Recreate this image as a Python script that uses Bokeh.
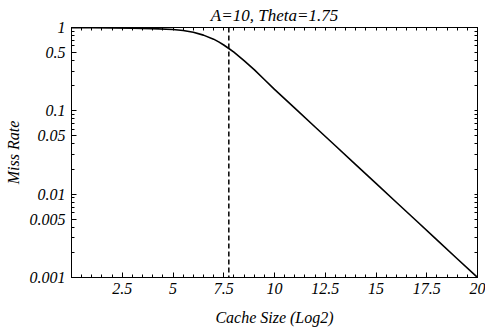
from bokeh.plotting import figure
from bokeh.models import FixedTicker, LogAxis, LinearAxis, Span, Range1d, Title
from bokeh.embed import file_html
from bokeh.resources import INLINE

# ---- data ----
cache_log2 = [0, 1, 2, 3, 4, 5, 5.5, 6, 6.5, 7, 7.25, 7.5, 7.75, 8, 8.5, 9, 9.5,
              10, 11, 12, 13, 14, 15, 16, 17, 18, 19, 20]
miss_rate = [0.996, 0.994, 0.99, 0.983, 0.97, 0.945, 0.92, 0.875, 0.81, 0.725,
             0.672, 0.617, 0.56, 0.505, 0.40, 0.312, 0.238,
             0.181, 0.1077, 0.064, 0.0381, 0.0226, 0.01345, 0.008, 0.00476,
             0.00283, 0.00168, 0.001]
dash_x = 7.75
x_ticks = [2.5, 5, 7.5, 10, 12.5, 15, 17.5, 20]
x_tick_labels = ["2.5", "5", "7.5", "10", "12.5", "15", "17.5", "20"]
y_ticks = [0.001, 0.005, 0.01, 0.05, 0.1, 0.5, 1]
y_tick_labels = ["0.001", "0.005", "0.01", "0.05", "0.1", "0.5", "1"]
title_text = "A=10, Theta=1.75"
x_label = "Cache Size (Log2)"
y_label = "Miss Rate"

FONT = "Liberation Serif"

x_minor = [i * 0.5 for i in range(0, 41) if (i * 0.5) not in x_ticks]
y_minor = []
for dec in [0.001, 0.01, 0.1]:
    for k in [2, 3, 4, 6, 7, 8, 9]:
        y_minor.append(dec * k)

p = figure(width=485, height=335, output_backend="svg", toolbar_location=None,
           y_axis_type="log", x_range=Range1d(0, 20), y_range=Range1d(0.001, 1),
           min_border_left=71, min_border_right=8, min_border_top=26,
           min_border_bottom=58)
p.background_fill_color = "white"
p.border_fill_color = "white"
p.outline_line_color = "black"
p.grid.visible = False

t = Title(text=title_text, align="center", text_font=FONT, text_font_style="italic",
          text_font_size="17px", text_color="black", standoff=6, offset=0)
p.title = t

p.line(cache_log2, miss_rate, line_color="black", line_width=1.6)
p.add_layout(Span(location=dash_x, dimension="height", line_color="black",
                  line_width=1.5, line_dash="5 3"))

def style(ax):
    ax.axis_line_color = "black"
    ax.major_tick_in = 5
    ax.major_tick_out = 0
    ax.minor_tick_in = 3
    ax.minor_tick_out = 0
    ax.major_tick_line_color = "black"
    ax.minor_tick_line_color = "black"
    ax.major_label_text_font = FONT
    ax.major_label_text_font_style = "italic"
    ax.major_label_text_font_size = "16px"
    ax.major_label_text_color = "black"
    ax.axis_label_text_font = FONT
    ax.axis_label_text_font_style = "italic"
    ax.axis_label_text_font_size = "16px"
    ax.axis_label_text_color = "black"

xa = p.xaxis[0]
xa.ticker = FixedTicker(ticks=x_ticks, minor_ticks=x_minor)
xa.major_label_overrides = {v: s for v, s in zip(x_ticks, x_tick_labels)}
xa.axis_label = x_label
style(xa)
xa.major_label_standoff = 5
xa.axis_label_standoff = 12

ya = p.yaxis[0]
ya.ticker = FixedTicker(ticks=y_ticks, minor_ticks=y_minor)
ya.major_label_overrides = {v: s for v, s in zip(y_ticks, y_tick_labels)}
ya.axis_label = y_label
style(ya)
ya.major_label_standoff = 6
ya.axis_label_standoff = 5

# Mirrored frame ticks (top and right) without labels: all ticks drawn as minor ticks
top = LinearAxis(ticker=FixedTicker(ticks=[], minor_ticks=sorted(x_ticks + x_minor)))
top.axis_line_color = "black"
top.major_tick_line_color = None
top.minor_tick_in = 3
top.minor_tick_out = 0
top.minor_tick_line_color = "black"
p.add_layout(top, "above")

right = LogAxis(ticker=FixedTicker(ticks=[], minor_ticks=sorted(y_ticks + y_minor)))
right.axis_line_color = "black"
right.major_tick_line_color = None
right.minor_tick_in = 3
right.minor_tick_out = 0
right.minor_tick_line_color = "black"
p.add_layout(right, "right")

open("out.html", "w").write(file_html(p, INLINE))
